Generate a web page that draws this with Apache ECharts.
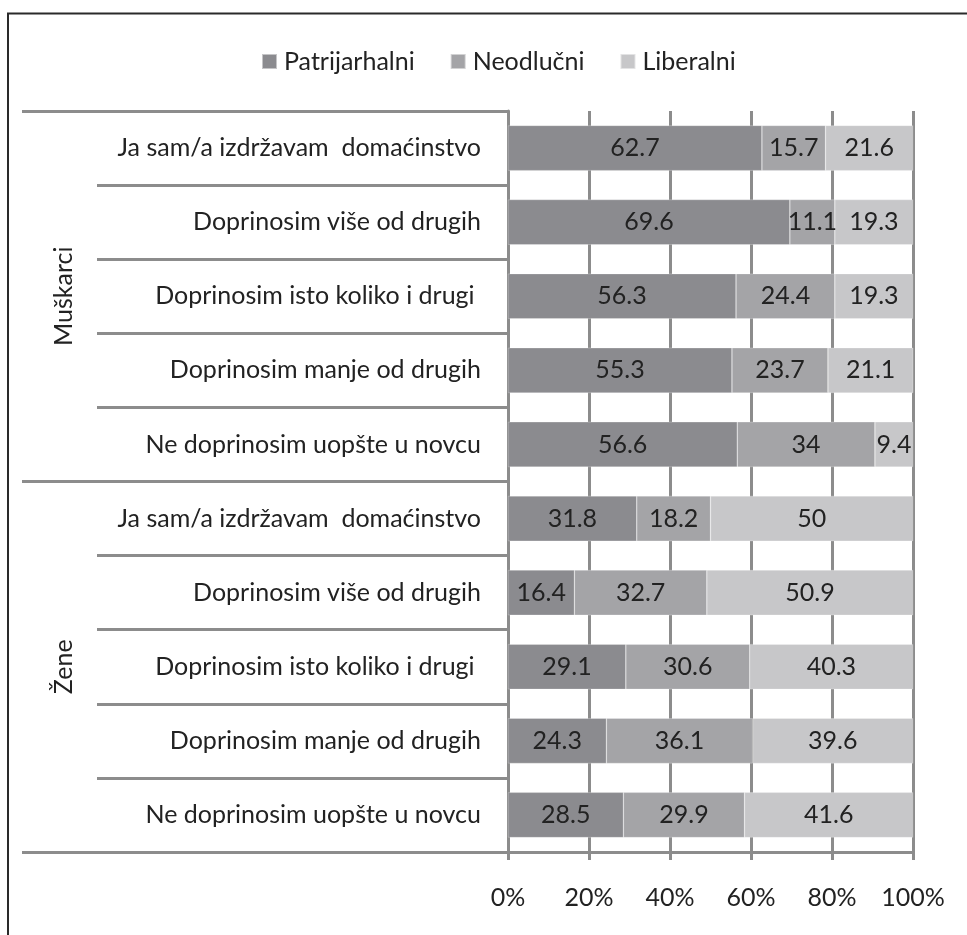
<!DOCTYPE html>
<html>
<head>
<meta charset="utf-8">
<script src="https://cdn.jsdelivr.net/npm/echarts@6/dist/echarts.min.js"></script>
<style>
html,body{margin:0;padding:0;background:#fff;}
#c{width:967px;height:935px;}
</style>
</head>
<body>
<div id="c"></div>
<script>
const categories = [
  'Ja sam/a izdržavam  domaćinstvo',
  'Doprinosim više od drugih',
  'Doprinosim isto koliko i drugi ',
  'Doprinosim manje od drugih',
  'Ne doprinosim uopšte u novcu',
  'Ja sam/a izdržavam  domaćinstvo',
  'Doprinosim više od drugih',
  'Doprinosim isto koliko i drugi ',
  'Doprinosim manje od drugih',
  'Ne doprinosim uopšte u novcu'
];
const groups = ['Muškarci', 'Žene'];
const seriesNames = ['Patrijarhalni', 'Neodlučni', 'Liberalni'];
const patrijarhalni = [62.7, 69.6, 56.3, 55.3, 56.6, 31.8, 16.4, 29.1, 24.3, 28.5];
const neodlucni     = [15.7, 11.1, 24.4, 23.7, 34,   18.2, 32.7, 30.6, 36.1, 29.9];
const liberalni     = [21.6, 19.3, 19.3, 21.1, 9.4,  50,   50.9, 40.3, 39.6, 41.6];
const xTicks = [0, 20, 40, 60, 80, 100];

const FONT = 'Lato';
const FS = 25;
const GRAY = '#8c8c8c';
const colors = ['#8b8b8f', '#a4a4a7', '#c7c7c9'];
const values = [patrijarhalni, neodlucni, liberalni];

const chart = echarts.init(document.getElementById('c'), null, {renderer: 'canvas'});
chart.setOption({
  animation: false,
  backgroundColor: '#fff',
  textStyle: {fontFamily: FONT},
  graphic: [{
    type: 'rect', z: 100, silent: true,
    shape: {x: 8, y: 13.5, width: 1200, height: 1200},
    style: {fill: 'none', stroke: '#2a2a2a', lineWidth: 2}
  }],
  legend: {
    top: 44, left: 256,
    itemWidth: 15, itemHeight: 15, itemGap: 35,
    icon: 'rect',
    textStyle: {fontFamily: FONT, fontSize: FS, color: '#222', padding: [0, 0, 0, 2]},
    data: seriesNames
  },
  grid: {left: 508, right: 54, top: 111, bottom: 83, containLabel: false},
  xAxis: {
    type: 'value', min: xTicks[0], max: xTicks[xTicks.length - 1], interval: 20,
    axisLine: {show: true, lineStyle: {color: GRAY, width: 3}},
    axisTick: {show: true, length: 8, lineStyle: {color: GRAY, width: 3}},
    axisLabel: {formatter: '{value}%', margin: 33, fontFamily: FONT, fontSize: FS, color: '#222'},
    splitLine: {show: true, lineStyle: {color: GRAY, width: 3}}
  },
  yAxis: [{
    type: 'category', inverse: true, data: categories,
    axisLine: {show: true, lineStyle: {color: GRAY, width: 3}},
    axisTick: {show: true, length: 411, lineStyle: {color: GRAY, width: 3}},
    axisLabel: {margin: 27, fontFamily: FONT, fontSize: FS, color: '#222'}
  }, {
    type: 'category', inverse: true, data: groups, position: 'left',
    axisLine: {show: false},
    axisTick: {show: true, length: 486, lineStyle: {color: GRAY, width: 3}},
    axisLabel: {rotate: 90, margin: 432, fontFamily: FONT, fontSize: FS, color: '#222'}
  }],
  series: seriesNames.map((n, i) => ({
    name: n, type: 'bar', stack: 'total', yAxisIndex: 0,
    barWidth: '61%',
    itemStyle: {color: colors[i], borderColor: 'rgba(255,255,255,0.5)', borderWidth: 0.5},
    label: {show: true, position: 'inside', fontFamily: FONT, fontSize: FS, color: '#222',
            formatter: p => String(p.value)},
    data: values[i]
  }))
});
</script>
</body>
</html>
